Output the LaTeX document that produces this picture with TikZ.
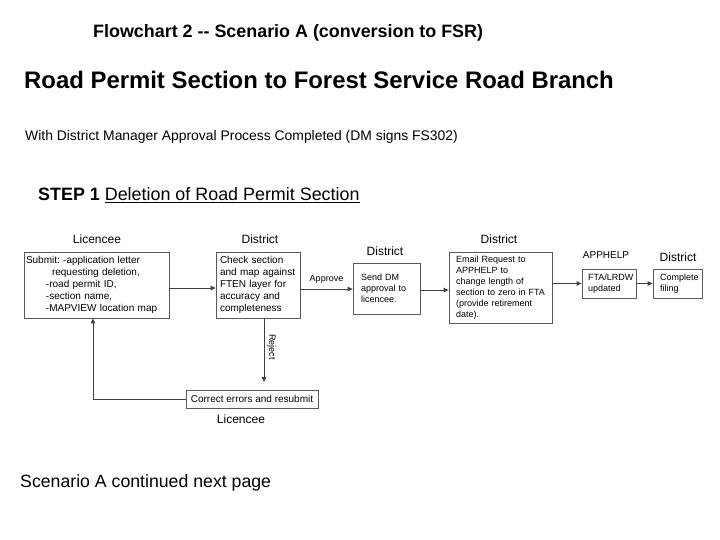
\documentclass[tikz,border=0pt]{standalone}
\usepackage{fontspec}
\setmainfont{Liberation Sans}
\usetikzlibrary{arrows.meta}
\frenchspacing
\newcommand{\fsz}[1]{\fontsize{#1}{#1}\selectfont}
\tikzset{
  box/.style={draw=black!65, line width=0.8pt, align=left, inner ysep=0pt, anchor=center},
  lbl/.style={inner sep=0pt, anchor=center},
  conn/.style={draw=black!75, line width=0.9pt, -{Triangle[length=5pt,width=4.5pt]}},
}
\begin{document}
\begin{tikzpicture}[x=1pt,y=-1pt]
\useasboundingbox (0,0) rectangle (720,540);
% titles
\node[lbl, anchor=west] (t1) at (93,33) {\fsz{17.9}\bfseries Flowchart 2 -{}- Scenario A (conversion to FSR)};
\node[lbl, anchor=west] (t2) at (24,80) {\fsz{23.9}\bfseries Road Permit Section to Forest Service Road Branch};
\node[lbl, anchor=west] (t3) at (25,137) {\fsz{13.9}With District Manager Approval Process Completed (DM signs FS302)};
\node[lbl, anchor=west] (t4) at (38,195) {\fsz{17.9}\textbf{STEP 1} \underline{Deletion of Road Permit Section}};
\node[lbl, anchor=west] (t5) at (20,483) {\fsz{17.7}Scenario A continued next page};
% role labels
\node[lbl] (l1) at (97,239) {\fsz{12}Licencee};
\node[lbl] (l2) at (260,239) {\fsz{12}District};
\node[lbl] (l3) at (385,251) {\fsz{12}District};
\node[lbl] (l4) at (499,239) {\fsz{12}District};
\node[lbl] (l5) at (606,255) {\fsz{10}APPHELP};
\node[lbl] (l6) at (678,257) {\fsz{12}District};
\node[lbl] (l7) at (241,419) {\fsz{12}Licencee};
% boxes
\node[box, font=\fontsize{10}{12}\selectfont, inner xsep=2pt, text width=141pt, minimum height=66pt] (b1) at (96.5,285)
  {Submit: -application letter\\
   \hspace*{26pt}requesting deletion,\\
   \hspace*{20pt}-road permit ID,\\
   \hspace*{20pt}-section name,\\
   \hspace*{20pt}-MAPVIEW location map};
\node[box, font=\fontsize{10}{12}\selectfont, inner xsep=4pt, text width=76pt, minimum height=66pt] (b2) at (258,285)
  {Check section\\ and map against\\ FTEN layer for\\ accuracy and\\ completeness};
\node[box, font=\fontsize{9}{11}\selectfont, inner xsep=8pt, text width=51pt, minimum height=51pt] (b3) at (386.5,288.5)
  {Send DM\\ approval to\\ licencee.};
\node[box, font=\fontsize{9}{11}\selectfont, inner xsep=7pt, text width=89pt, minimum height=71pt] (b4) at (500.5,287.5)
  {Email Request to\\ APPHELP to\\ change length of\\ \mbox{section to zero in FTA}\\ (provide retirement\\ date).};
\node[box, font=\fontsize{9}{11}\selectfont, inner xsep=6pt, text width=42pt, minimum height=29pt] (b5) at (609,283.5)
  {FTA/LRDW\\ updated};
\node[box, font=\fontsize{9}{11}\selectfont, inner xsep=7pt, text width=35pt, minimum height=29pt] (b6) at (677.5,283.5)
  {Complete\\ filing};
\node[box, font=\fsz{10}, align=center, inner xsep=0pt, minimum width=132pt, minimum height=18pt] (b7) at (252,399)
  {Correct errors and resubmit};
% connectors
\draw[conn] ([yshift=-3pt]b1.east) -- ([yshift=-3pt]b1.east -| b2.west);
\draw[conn] ([yshift=-4pt]b2.east) -- node[lbl, above=5pt] (ap) {\fsz{9}Approve} ([yshift=-4pt]b2.east -| b3.west);
\draw[conn] ([yshift=-1.5pt]b3.east) -- ([yshift=-1.5pt]b3.east -| b4.west);
\draw[conn] (b5.west -| b4.east) -- (b5.west);
\draw[conn] (b5.east) -- (b6.west);
\draw[conn] ([xshift=6pt]b2.south) -- node[lbl, right=3pt, pos=0.45] (rj) {\rotatebox{-90}{\fsz{9}Reject}} ([xshift=6pt]b2.south |- 0,382);
\draw[conn] (b7.west) -| ([xshift=-3.5pt]b1.south);
\end{tikzpicture}
\end{document}
